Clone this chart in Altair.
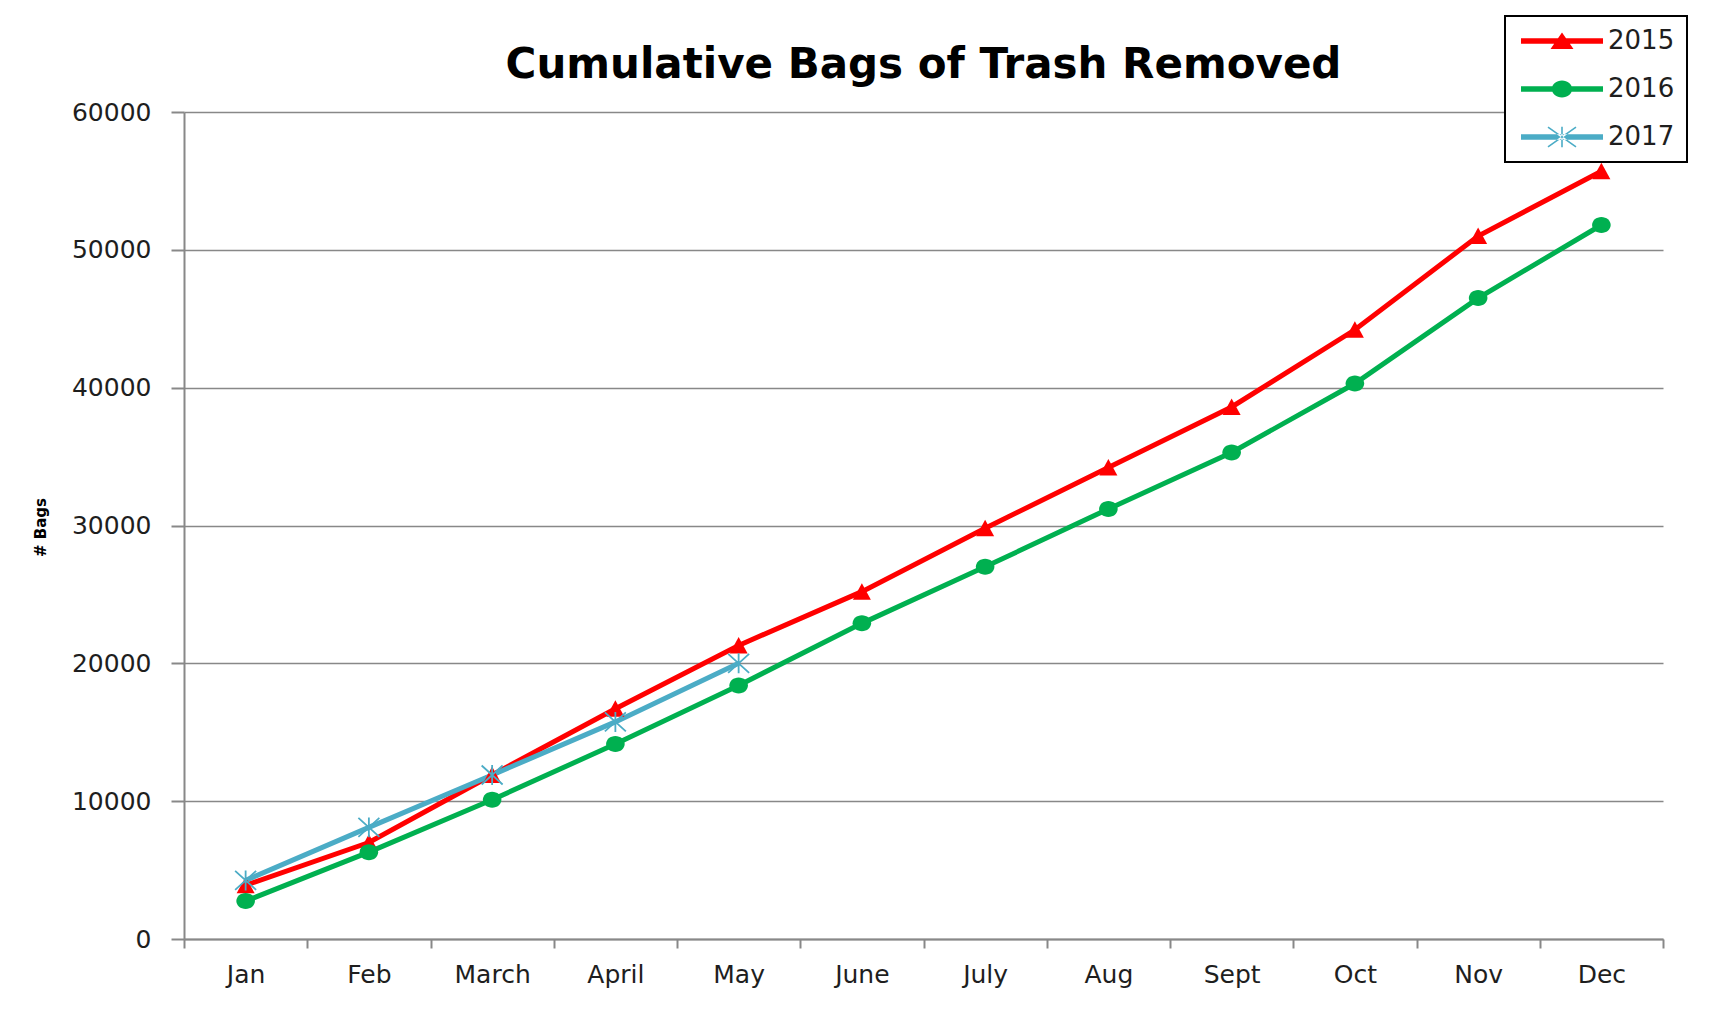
import math
import altair as alt
import pandas as pd

months = ["Jan", "Feb", "March", "April", "May", "June", "July", "Aug", "Sept", "Oct", "Nov", "Dec"]
years = ["2015", "2016", "2017"]
bags_2015 = [3900, 7000, 11900, 16700, 21300, 25200, 29800, 34200, 38600, 44200, 51000, 55700]
bags_2016 = [2750, 6300, 10100, 14150, 18400, 22900, 27000, 31200, 35300, 40300, 46500, 51800]
bags_2017 = [4250, 8100, 11900, 15750, 20000]
y_ticks = [0, 10000, 20000, 30000, 40000, 50000, 60000]
colors = ["#FF0000", "#00B050", "#4BACC6"]

rows = []
for yr, vals in zip(years, [bags_2015, bags_2016, bags_2017]):
    for m, v in zip(months, vals):
        rows.append({"month": m, "year": yr, "bags": v})
df = pd.DataFrame(rows)


# ---- marker shapes (SVG paths in symbol units) ----
def poly(pts):
    return "M" + "L".join(f"{x:.3f},{y:.3f}" for x, y in pts) + "Z"


def seg(x1, y1, x2, y2, t):
    dx, dy = x2 - x1, y2 - y1
    L = math.hypot(dx, dy)
    nx, ny = -dy / L * t, dx / L * t
    return poly([(x1 + nx, y1 + ny), (x2 + nx, y2 + ny), (x2 - nx, y2 - ny), (x1 - nx, y1 - ny)])


def ellipse(rx, ry):
    return (f"M{rx},0A{rx},{ry},0,1,1,{-rx},0A{rx},{ry},0,1,1,{rx},0Z")


def tri(hw, top, bot):
    return poly([(0, top), (hw, bot), (-hw, bot)])


def star(hw, hh, t):
    return (seg(-hw, -hh, hw, hh, t) + seg(-hw, hh, hw, -hh, t) + seg(0, -hh * 1.05, 0, hh * 1.05, t))


marker_paths = [tri(0.9, -0.85, 0.8), ellipse(0.93, 0.8), star(1.05, 0.95, 0.09)]
line_seg = poly([(-4.1, -0.27), (4.1, -0.27), (4.1, 0.27), (-4.1, 0.27)])
legend_paths = [
    line_seg + tri(1.15, -0.85, 0.8),
    line_seg + ellipse(1.02, 0.85),
    line_seg + star(1.4, 0.98, 0.08),
]

GRID = "#888888"
FONT = "DejaVu Sans"

x_enc = alt.X(
    "month:N",
    sort=months,
    scale=alt.Scale(type="band", domain=months, paddingInner=0, paddingOuter=0),
    axis=alt.Axis(
        title=None, labelAngle=0, tickBand="extent", grid=False,
        labelFont=FONT, labelFontSize=25, labelColor="#1e1e1e", labelPadding=14,
        tickSize=9, tickColor=GRID, tickWidth=2, domainColor=GRID, domainWidth=2,
    ),
)
y_enc = alt.Y(
    "bags:Q",
    scale=alt.Scale(domain=[0, 60000], nice=False),
    axis=alt.Axis(
        values=y_ticks, format="d", title="# Bags", grid=True, gridColor=GRID, gridWidth=1.5,
        tickSize=13, tickColor=GRID, tickWidth=2, domainColor=GRID, domainWidth=2,
        labelFont=FONT, labelFontSize=25, labelColor="#1e1e1e", labelPadding=20,
        titleFont=FONT, titleFontSize=15, titleFontWeight="bold", titleColor="black",
        titleAngle=270, titleX=-144, titleY=415, titleAlign="center", titleBaseline="middle",
    ),
)

color_scale = alt.Scale(domain=years, range=colors)

lines = alt.Chart(df).mark_line(strokeWidth=5).encode(
    x=x_enc, y=y_enc,
    color=alt.Color("year:N", scale=color_scale, legend=None),
)

points = alt.Chart(df).mark_point(filled=True, size=400, opacity=1, strokeWidth=0).encode(
    x=x_enc, y=y_enc,
    color=alt.Color("year:N", scale=color_scale, legend=None),
    shape=alt.Shape("year:N", scale=alt.Scale(domain=years, range=marker_paths), legend=None),
)

leg = dict(
    title=None, orient="none", legendX=1321, legendY=-96,
    labelFont=FONT, labelFontSize=26, labelColor="#1e1e1e", labelOffset=33,
    symbolOffset=32, symbolStrokeWidth=0, symbolSize=400, rowPadding=22, padding=12,
)
legend_layer = alt.Chart(df).transform_filter("false").mark_point(
    filled=True, size=400, opacity=1, strokeWidth=0
).encode(
    x=x_enc, y=y_enc,
    color=alt.Color("year:N", scale=color_scale, legend=alt.Legend(**leg)),
    shape=alt.Shape("year:N", scale=alt.Scale(domain=years, range=legend_paths), legend=alt.Legend(**leg)),
)

chart = (
    alt.layer(lines, points, legend_layer)
    .resolve_scale(color="independent", shape="independent")
    .properties(
        width=1479, height=827,
        title=alt.TitleParams(
            "Cumulative Bags of Trash Removed", font=FONT, fontSize=42, fontWeight="bold",
            color="black", anchor="middle", frame="group", offset=-105, baseline="alphabetic",
        ),
        autosize=alt.AutoSizeParams(type="none"),
        padding={"left": 176, "top": 104, "right": 44, "bottom": 70},
        background="white",
    )
    .configure_view(strokeWidth=0)
    .configure_legend(strokeColor="black", strokeWidth=2, fillColor="white", cornerRadius=0)
)

chart.save("out.html", embed_options={"renderer": "svg", "actions": False})
